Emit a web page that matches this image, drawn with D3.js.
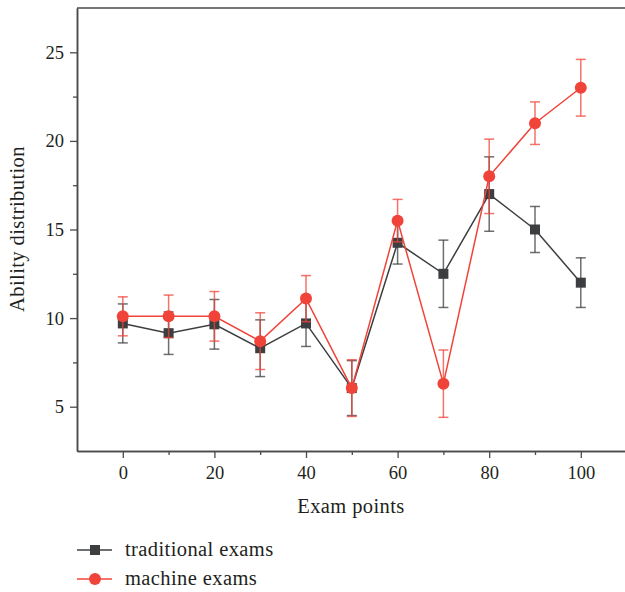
<!DOCTYPE html>
<html><head><meta charset="utf-8">
<script src="https://cdn.jsdelivr.net/npm/d3@7"></script>
<style>body{margin:0;background:#fff}svg{display:block}text{font-family:"Liberation Serif","Times New Roman",serif;fill:#231f20}</style>
</head><body><svg id="c" width="625" height="592"></svg>
<script>
const examPoints = [0,10,20,30,40,50,60,70,80,90,100];
const traditional = [9.7,9.15,9.65,8.3,9.7,6.05,14.25,12.5,17.0,15.0,12.0];
const traditionalErr = [1.1,1.2,1.4,1.6,1.3,1.55,1.2,1.9,2.1,1.3,1.4];
const machine = [10.1,10.1,10.1,8.7,11.1,6.05,15.5,6.3,18.0,21.0,23.0];
const machineErr = [1.1,1.2,1.4,1.6,1.3,1.6,1.2,1.9,2.1,1.2,1.6];
const seriesNames = ["traditional exams","machine exams"];
const xTicks = [0,20,40,60,80,100];
const yTicks = [5,10,15,20,25];

const svg = d3.select("#c");
const axisCol = "#4a4a4a";
const blackCol = "#3c3e40", redCol = "#f0443a";
const x = d3.scaleLinear().domain([-10,120]).range([77,672.4]);
const y = d3.scaleLinear().domain([2.5,27.5]).range([451,8]);

svg.append("line").attr("x1",77).attr("x2",625).attr("y1",y(27.5)).attr("y2",y(27.5))
  .attr("stroke",axisCol).attr("stroke-width",1.5);

const fs = "18.5px", fsT = "20.5px";
const gy = svg.append("g").attr("transform","translate(77,0)");
gy.call(d3.axisLeft(y).tickValues(yTicks).tickSize(7).tickPadding(6).tickSizeOuter(0));
gy.append("g").call(d3.axisLeft(y).tickValues([7.5,12.5,17.5,22.5]).tickSize(4).tickFormat("").tickSizeOuter(0));
const gx = svg.append("g").attr("transform","translate(0,451)");
gx.call(d3.axisBottom(x).tickValues(xTicks).tickSize(7).tickPadding(8).tickSizeOuter(0));
gx.append("g").call(d3.axisBottom(x).tickValues([10,30,50,70,90]).tickSize(4).tickFormat("").tickSizeOuter(0));
svg.selectAll(".domain").attr("stroke",axisCol).attr("stroke-width",1.5);
svg.selectAll(".tick line").attr("stroke",axisCol).attr("stroke-width",1.3);
svg.selectAll(".tick text").style("font-size",fs).style("font-family",'"Liberation Serif",serif').attr("fill","#231f20");

svg.append("text").attr("x",351).attr("y",513).attr("text-anchor","middle").style("font-size",fsT).style("letter-spacing","0.4px").text("Exam points");
svg.append("text").attr("transform","translate(24,229) rotate(-90)").attr("text-anchor","middle").style("font-size",fsT).style("letter-spacing","0.4px").text("Ability distribution");

function drawSeries(vals, errs, col, shape){
  const g = svg.append("g");
  const line = d3.line().x((d,i)=>x(examPoints[i])).y(d=>y(d));
  g.append("path").datum(vals).attr("d",line).attr("fill","none").attr("stroke",col).attr("stroke-width",1.5);
  if(shape==="square"){
    g.selectAll("rect").data(vals).join("rect")
      .attr("x",(d,i)=>x(examPoints[i])-5).attr("y",d=>y(d)-5).attr("width",10).attr("height",10).attr("fill",col);
  } else {
    g.selectAll("circle").data(vals).join("circle")
      .attr("cx",(d,i)=>x(examPoints[i])).attr("cy",d=>y(d)).attr("r",6).attr("fill",col);
  }
  const eb = g.append("g").attr("stroke",col).attr("stroke-opacity",0.75).attr("stroke-width",1.5);
  vals.forEach((v,i)=>{
    const cx = x(examPoints[i]), t = y(v+errs[i]), b = y(v-errs[i]);
    eb.append("line").attr("x1",cx).attr("x2",cx).attr("y1",t).attr("y2",b);
    eb.append("line").attr("x1",cx-5).attr("x2",cx+5).attr("y1",t).attr("y2",t);
    eb.append("line").attr("x1",cx-5).attr("x2",cx+5).attr("y1",b).attr("y2",b);
  });
}
drawSeries(traditional, traditionalErr, blackCol, "square");
drawSeries(machine, machineErr, redCol, "circle");

const leg = [{n:seriesNames[0],c:blackCol,s:"square",y:550},{n:seriesNames[1],c:redCol,s:"circle",y:579}];
leg.forEach(l=>{
  svg.append("line").attr("x1",77).attr("x2",112).attr("y1",l.y).attr("y2",l.y).attr("stroke",l.c).attr("stroke-width",1.5);
  if(l.s==="square") svg.append("rect").attr("x",90).attr("y",l.y-5).attr("width",10).attr("height",10).attr("fill",l.c);
  else svg.append("circle").attr("cx",95).attr("cy",l.y).attr("r",6).attr("fill",l.c);
  svg.append("text").attr("x",125).attr("y",l.y+6).style("font-size",fsT).style("letter-spacing","0.4px").text(l.n);
});
</script></body></html>
